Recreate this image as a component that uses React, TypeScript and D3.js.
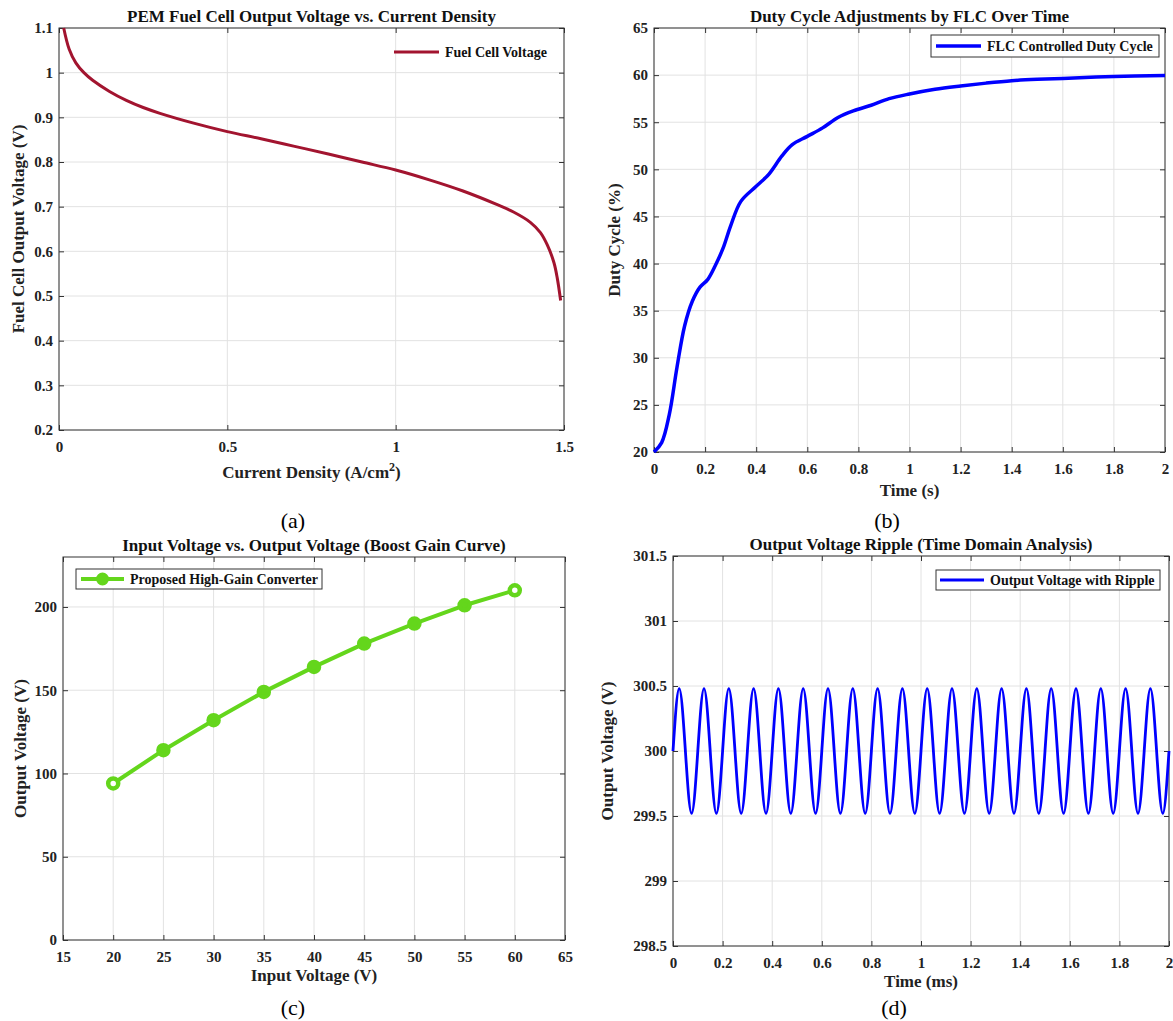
import React, { useEffect, useRef } from "react";
import * as d3 from "d3";

// (a) PEM fuel cell polarization curve
const fcCurrent = [
  0.014, 0.03, 0.05, 0.074, 0.1, 0.15, 0.2, 0.25, 0.3, 0.4, 0.5, 0.6, 0.7,
  0.8, 0.9, 1.0, 1.1, 1.2, 1.3, 1.35, 1.4, 1.43, 1.45, 1.47, 1.48, 1.49,
];
const fcVoltage = [
  1.1, 1.053, 1.022, 1.0, 0.983, 0.958, 0.938, 0.922, 0.909, 0.887, 0.868,
  0.852, 0.835, 0.818, 0.8, 0.782, 0.76, 0.735, 0.705, 0.688, 0.665, 0.642,
  0.615, 0.575, 0.54, 0.49,
];

// (b) duty cycle set by the FLC
const dutyTime = [
  0, 0.03, 0.06, 0.09, 0.12, 0.15, 0.18, 0.21, 0.24, 0.27, 0.3, 0.34, 0.4,
  0.45, 0.5, 0.54, 0.6, 0.66, 0.72, 0.78, 0.85, 0.92, 1.0, 1.1, 1.2, 1.3, 1.4,
  1.5, 1.6, 1.8, 2.0,
];
const dutyValue = [
  20, 21.0, 24.0, 29.0, 33.4, 36.0, 37.5, 38.3, 39.8, 41.6, 44.0, 46.6, 48.2,
  49.5, 51.4, 52.6, 53.5, 54.4, 55.5, 56.2, 56.8, 57.5, 58.0, 58.5, 58.85,
  59.15, 59.4, 59.55, 59.65, 59.85, 59.95,
];

// (c) boost gain curve
const inputVoltage = [20, 25, 30, 35, 40, 45, 50, 55, 60];
const outputVoltage = [94, 114, 132, 149, 164, 178, 190, 201, 210];

// (d) output ripple, sampled at peaks, troughs and crossings
const rippleTime = [
  0, 0.025, 0.05, 0.075, 0.1, 0.125, 0.15, 0.175,
  0.2, 0.225, 0.25, 0.275, 0.3, 0.325, 0.35, 0.375,
  0.4, 0.425, 0.45, 0.475, 0.5, 0.525, 0.55, 0.575,
  0.6, 0.625, 0.65, 0.675, 0.7, 0.725, 0.75, 0.775,
  0.8, 0.825, 0.85, 0.875, 0.9, 0.925, 0.95, 0.975,
  1.0, 1.025, 1.05, 1.075, 1.1, 1.125, 1.15, 1.175,
  1.2, 1.225, 1.25, 1.275, 1.3, 1.325, 1.35, 1.375,
  1.4, 1.425, 1.45, 1.475, 1.5, 1.525, 1.55, 1.575,
  1.6, 1.625, 1.65, 1.675, 1.7, 1.725, 1.75, 1.775,
  1.8, 1.825, 1.85, 1.875, 1.9, 1.925, 1.95, 1.975,
  2.0,
];
const rippleVoltage = [
  300, 300.48, 300, 299.52, 300, 300.48, 300, 299.52,
  300, 300.48, 300, 299.52, 300, 300.48, 300, 299.52,
  300, 300.48, 300, 299.52, 300, 300.48, 300, 299.52,
  300, 300.48, 300, 299.52, 300, 300.48, 300, 299.52,
  300, 300.48, 300, 299.52, 300, 300.48, 300, 299.52,
  300, 300.48, 300, 299.52, 300, 300.48, 300, 299.52,
  300, 300.48, 300, 299.52, 300, 300.48, 300, 299.52,
  300, 300.48, 300, 299.52, 300, 300.48, 300, 299.52,
  300, 300.48, 300, 299.52, 300, 300.48, 300, 299.52,
  300, 300.48, 300, 299.52, 300, 300.48, 300, 299.52,
  300,
];

const FONT = "'Liberation Serif', 'Times New Roman', serif";
const AXIS = "#333";
const GRID = "#e2e2e2";

const panels = [
  {
    left: 59, right: 564, top: 28, bottom: 430,
    xDomain: [0, 1.5], yDomain: [0.2, 1.1],
    xTicks: [0, 0.5, 1, 1.5],
    yTicks: [0.2, 0.3, 0.4, 0.5, 0.6, 0.7, 0.8, 0.9, 1, 1.1],
    title: "PEM Fuel Cell Output Voltage vs. Current Density",
    xLabel: "Current Density (A/cm", xSup: "2", xLabelTail: ")", xLabelDy: 48,
    yLabel: "Fuel Cell Output Voltage (V)", yLabelX: 18,
    tag: "(a)", tagX: 293, tagY: 528,
    xs: fcCurrent, ys: fcVoltage, color: "#a2142f", width: 3,
    curve: d3.curveCatmullRom.alpha(0.5), markers: false,
    legend: { text: "Fuel Cell Voltage", box: null, lx: 394, ly: 52, tx: 445 },
  },
  {
    left: 654, right: 1165, top: 28, bottom: 452,
    xDomain: [0, 2], yDomain: [20, 65],
    xTicks: d3.range(0, 2.01, 0.2).map((d) => +d.toFixed(1)),
    yTicks: [20, 25, 30, 35, 40, 45, 50, 55, 60, 65],
    title: "Duty Cycle Adjustments by FLC Over Time",
    xLabel: "Time (s)", xLabelDy: 44, yLabel: "Duty Cycle (%)", yLabelX: 614,
    tag: "(b)", tagX: 887, tagY: 528,
    xs: dutyTime, ys: dutyValue, color: "#0000ff", width: 3.5,
    curve: d3.curveCatmullRom.alpha(0.5), markers: false,
    legend: { text: "FLC Controlled Duty Cycle", box: [931, 35, 228, 22], lx: 936, ly: 46, tx: 987 },
  },
  {
    left: 63, right: 565, top: 557, bottom: 940,
    xDomain: [15, 65], yDomain: [0, 230],
    xTicks: [15, 20, 25, 30, 35, 40, 45, 50, 55, 60, 65],
    yTicks: [0, 50, 100, 150, 200],
    title: "Input Voltage vs. Output Voltage (Boost Gain Curve)",
    xLabel: "Input Voltage (V)", xLabelDy: 41, yLabel: "Output Voltage (V)", yLabelX: 20,
    tag: "(c)", tagX: 293, tagY: 1015,
    xs: inputVoltage, ys: outputVoltage, color: "#64d61c", width: 4,
    curve: d3.curveLinear, markers: true,
    legend: { text: "Proposed High-Gain Converter", box: [76, 569, 246, 20], lx: 81, ly: 579, tx: 130 },
  },
  {
    left: 673, right: 1169, top: 556, bottom: 946,
    xDomain: [0, 2], yDomain: [298.5, 301.5],
    xTicks: d3.range(0, 2.01, 0.2).map((d) => +d.toFixed(1)),
    yTicks: [298.5, 299, 299.5, 300, 300.5, 301, 301.5],
    title: "Output Voltage Ripple (Time Domain Analysis)",
    xLabel: "Time (ms)", xLabelDy: 41, yLabel: "Output Voltage (V)", yLabelX: 607,
    tag: "(d)", tagX: 894, tagY: 1015,
    xs: rippleTime, ys: rippleVoltage, color: "#0000ff", width: 2.8,
    curve: d3.curveNatural, markers: false,
    legend: { text: "Output Voltage with Ripple", box: [936, 570, 224, 20], lx: 940, ly: 580, tx: 990 },
  },
];

const fmt = d3.format("~g");

function drawPanel(svg: any, p: any) {
  const x = d3.scaleLinear().domain(p.xDomain).range([p.left, p.right]);
  const y = d3.scaleLinear().domain(p.yDomain).range([p.bottom, p.top]);
  const g = svg.append("g");

  g.append("rect")
    .attr("x", p.left).attr("y", p.top)
    .attr("width", p.right - p.left).attr("height", p.bottom - p.top)
    .attr("fill", "#fff");

  // grid
  g.append("g").selectAll("line").data(p.xTicks).join("line")
    .attr("x1", (d: number) => x(d)).attr("x2", (d: number) => x(d))
    .attr("y1", p.top).attr("y2", p.bottom)
    .attr("stroke", GRID);
  g.append("g").selectAll("line").data(p.yTicks).join("line")
    .attr("x1", p.left).attr("x2", p.right)
    .attr("y1", (d: number) => y(d)).attr("y2", (d: number) => y(d))
    .attr("stroke", GRID);

  // axes, ticks pointing inwards on all four sides
  const styleAxis = (sel: any) => {
    sel.select(".domain").remove();
    sel.selectAll(".tick line").attr("stroke", AXIS);
    sel.selectAll("text")
      .attr("fill", "#222")
      .style("font-family", FONT)
      .style("font-size", "15px")
      .style("font-weight", "bold");
  };
  g.append("g")
    .attr("transform", `translate(0,${p.bottom})`)
    .call(d3.axisBottom(x).tickValues(p.xTicks).tickSize(-5).tickPadding(11).tickFormat(fmt as any))
    .call(styleAxis);
  g.append("g")
    .attr("transform", `translate(0,${p.top})`)
    .call(d3.axisTop(x).tickValues(p.xTicks).tickSize(-5).tickFormat(() => ""))
    .call(styleAxis);
  g.append("g")
    .attr("transform", `translate(${p.left},0)`)
    .call(d3.axisLeft(y).tickValues(p.yTicks).tickSize(-5).tickPadding(6).tickFormat(fmt as any))
    .call(styleAxis);
  g.append("g")
    .attr("transform", `translate(${p.right},0)`)
    .call(d3.axisRight(y).tickValues(p.yTicks).tickSize(-5).tickFormat(() => ""))
    .call(styleAxis);

  g.append("rect")
    .attr("x", p.left).attr("y", p.top)
    .attr("width", p.right - p.left).attr("height", p.bottom - p.top)
    .attr("fill", "none").attr("stroke", AXIS).attr("stroke-width", 1);

  // series
  const pts = p.xs.map((d: number, i: number) => [d, p.ys[i]]);
  const line = d3.line<number[]>()
    .x((d) => x(d[0])).y((d) => y(d[1]))
    .curve(p.curve);
  g.append("path")
    .datum(pts)
    .attr("d", line)
    .attr("fill", "none")
    .attr("stroke", p.color)
    .attr("stroke-width", p.width)
    .attr("stroke-linejoin", "round");
  if (p.markers) {
    const last = pts.length - 1;
    g.append("g").selectAll("circle").data(pts).join("circle")
      .attr("cx", (d: number[]) => x(d[0])).attr("cy", (d: number[]) => y(d[1]))
      .attr("r", 5)
      .attr("fill", (_: any, i: number) => (i === 0 || i === last ? "#fff" : p.color))
      .attr("stroke", p.color)
      .attr("stroke-width", 4.5);
  }

  // legend
  const L = p.legend;
  if (L.box) {
    g.append("rect")
      .attr("x", L.box[0]).attr("y", L.box[1])
      .attr("width", L.box[2]).attr("height", L.box[3])
      .attr("fill", "#fff").attr("stroke", AXIS).attr("stroke-width", 1);
  }
  g.append("line")
    .attr("x1", L.lx).attr("x2", L.tx - 6)
    .attr("y1", L.ly).attr("y2", L.ly)
    .attr("stroke", p.color).attr("stroke-width", p.width);
  if (p.markers) {
    g.append("circle")
      .attr("cx", (L.lx + L.tx - 6) / 2).attr("cy", L.ly)
      .attr("r", 5.5).attr("fill", p.color)
      .attr("stroke", p.color).attr("stroke-width", 2);
  }
  g.append("text")
    .attr("x", L.tx).attr("y", L.ly + 5)
    .attr("fill", "#111")
    .style("font-family", FONT).style("font-size", "14px").style("font-weight", "bold")
    .text(L.text);

  // titles and labels
  const cx = (p.left + p.right) / 2;
  g.append("text")
    .attr("x", cx).attr("y", p.top - 6)
    .attr("text-anchor", "middle").attr("fill", "#111")
    .style("font-family", FONT).style("font-size", "17px").style("font-weight", "bold")
    .text(p.title);

  const xl = g.append("text")
    .attr("x", cx).attr("y", p.bottom + p.xLabelDy)
    .attr("text-anchor", "middle").attr("fill", "#222")
    .style("font-family", FONT).style("font-size", "17px").style("font-weight", "bold")
    .text(p.xLabel);
  if (p.xSup) {
    xl.append("tspan").attr("dy", -7).style("font-size", "12px").text(p.xSup);
    xl.append("tspan").attr("dy", 7).text(p.xLabelTail);
  }

  g.append("text")
    .attr("transform", `translate(${p.yLabelX},${(p.top + p.bottom) / 2}) rotate(-90)`)
    .attr("text-anchor", "middle").attr("dy", "0.35em").attr("fill", "#222")
    .style("font-family", FONT).style("font-size", "17px").style("font-weight", "bold")
    .text(p.yLabel);

  svg.append("text")
    .attr("x", p.tagX).attr("y", p.tagY)
    .attr("text-anchor", "middle").attr("fill", "#000")
    .style("font-family", FONT).style("font-size", "22px")
    .text(p.tag);
}

export default function App() {
  const svgRef = useRef<SVGSVGElement>(null);

  useEffect(() => {
    const svg = d3.select(svgRef.current);
    svg.selectAll("*").remove();
    svg.append("rect").attr("width", 1173).attr("height", 1021).attr("fill", "#fff");
    panels.forEach((p) => drawPanel(svg, p));
  }, []);

  return (
    <svg
      ref={svgRef}
      width={1173}
      height={1021}
      style={{ position: "absolute", left: 0, top: 0, display: "block" }}
    />
  );
}
